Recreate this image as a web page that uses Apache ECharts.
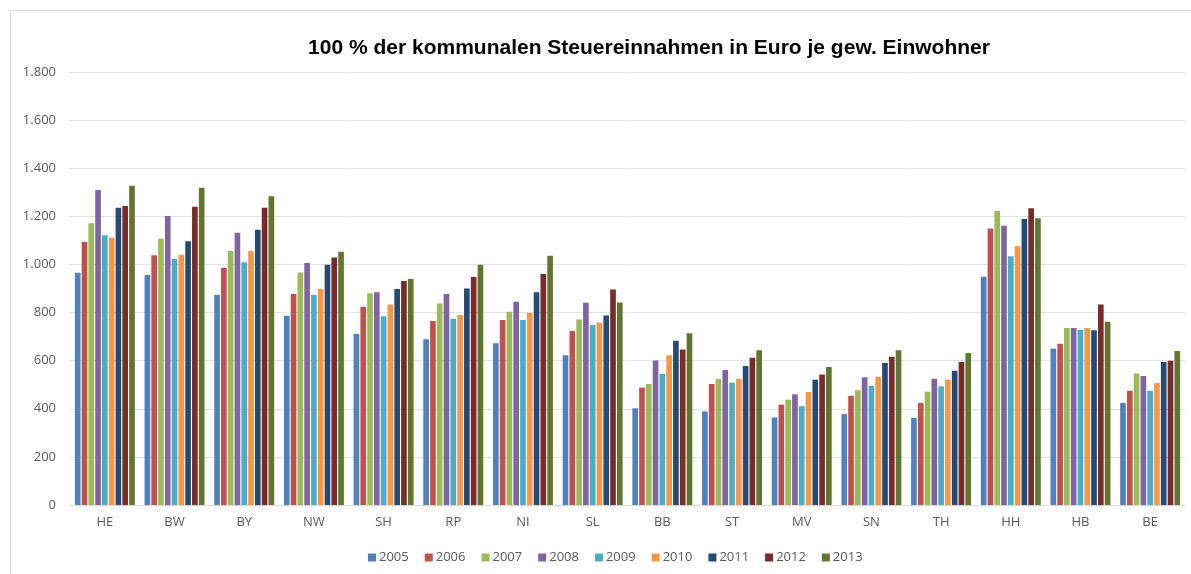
<!DOCTYPE html>
<html>
<head>
<meta charset="utf-8">
<script src="https://cdn.jsdelivr.net/npm/echarts@6/dist/echarts.min.js"></script>
<style>
  html, body { margin: 0; padding: 0; background: #fff; }
  #frame { position: absolute; left: 10px; top: 10px; right: 0; bottom: 0; border: 1px solid #d9d9d9; border-right: none; border-bottom: none; }
  #chart { width: 1191px; height: 574px; }
</style>
</head>
<body>
<div id="frame"></div>
<div id="chart"></div>
<script>
// Bundesländer
const categories = ["HE", "BW", "BY", "NW", "SH", "RP", "NI", "SL", "BB", "ST", "MV", "SN", "TH", "HH", "HB", "BE"];
const years = ["2005", "2006", "2007", "2008", "2009", "2010", "2011", "2012", "2013"];

// Werte je Jahr (Euro je gew. Einwohner), Reihenfolge wie categories
const v2005 = [965, 956, 874, 787, 711, 689, 672, 622, 402, 389, 364, 378, 362, 949, 650, 424];
const v2006 = [1093, 1038, 986, 877, 824, 765, 769, 723, 488, 503, 417, 454, 424, 1149, 670, 475];
const v2007 = [1171, 1107, 1056, 966, 880, 838, 803, 771, 503, 524, 438, 477, 471, 1222, 736, 547];
const v2008 = [1309, 1201, 1132, 1006, 884, 877, 845, 841, 601, 561, 460, 531, 525, 1161, 736, 536];
const v2009 = [1121, 1024, 1009, 873, 785, 774, 769, 748, 546, 508, 411, 496, 493, 1034, 729, 475];
const v2010 = [1111, 1040, 1056, 898, 834, 790, 798, 759, 622, 524, 470, 533, 521, 1076, 736, 507];
const v2011 = [1236, 1096, 1144, 999, 898, 900, 884, 788, 683, 578, 521, 590, 558, 1189, 726, 594];
const v2012 = [1243, 1240, 1236, 1029, 931, 948, 960, 896, 646, 612, 543, 616, 594, 1234, 833, 600];
const v2013 = [1327, 1319, 1284, 1053, 939, 999, 1036, 842, 714, 643, 574, 643, 632, 1192, 762, 640];
const values = [v2005, v2006, v2007, v2008, v2009, v2010, v2011, v2012, v2013];

const colors = ["#4f81bd", "#c0504d", "#9bbb59", "#8064a2", "#4bacc6", "#f79646", "#254a73", "#772c2a", "#5f7530"];

const chart = echarts.init(document.getElementById("chart"));

const option = {
  color: colors,
  animation: false,
  textStyle: { fontFamily: "Open Sans, Liberation Sans, sans-serif" },
  title: {
    text: "100 % der kommunalen Steuereinnahmen in Euro je gew. Einwohner",
    left: 644,
    textAlign: "center",
    top: 33,
    textStyle: { fontFamily: "Liberation Sans, Arial", fontWeight: "bold", fontSize: 21, color: "#000" }
  },
  legend: {
    bottom: 5,
    left: 363,
    itemWidth: 8,
    itemHeight: 8,
    itemGap: 16,
    icon: "rect",
    textStyle: { color: "#595959", fontSize: 13, padding: [0, 0, 0, -2] },
    data: years
  },
  grid: { left: 70, right: 6, top: 72, bottom: 69 },
  xAxis: {
    type: "category",
    data: categories,
    axisTick: { show: false },
    axisLine: { lineStyle: { color: "#d9d9d9" } },
    axisLabel: { color: "#595959", fontSize: 13, margin: 11 }
  },
  yAxis: {
    type: "value",
    min: 0,
    max: 1800,
    interval: 200,
    axisLine: { show: false },
    axisTick: { show: false },
    splitLine: { lineStyle: { color: "#e3e3e3" } },
    axisLabel: {
      color: "#595959",
      fontSize: 13,
      margin: 14,
      formatter: function (v) { return v.toLocaleString("de-DE"); }
    }
  },
  series: years.map(function (y, i) {
    return {
      name: y,
      type: "bar",
      data: values[i],
      barGap: "20%",
      barCategoryGap: "14%"
    };
  })
};

chart.setOption(option);
</script>
</body>
</html>
